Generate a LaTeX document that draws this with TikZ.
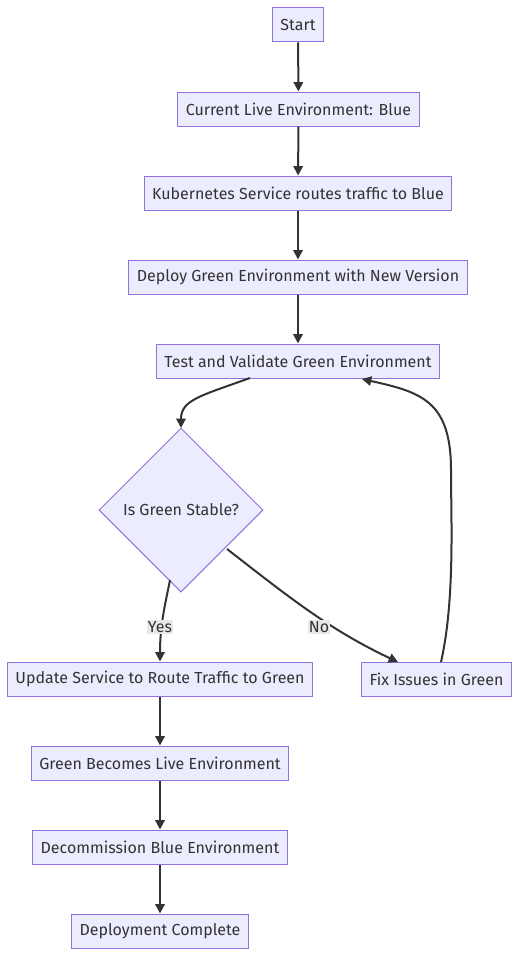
\documentclass[tikz,border=0pt]{standalone}
\usepackage{fontspec}
\setmainfont{Fira Sans}
\usetikzlibrary{arrows.meta,shapes.geometric}
\definecolor{nodefill}{HTML}{ECECFF}
\definecolor{nodeline}{HTML}{9370DB}
\definecolor{edgeline}{HTML}{333333}
\definecolor{textcol}{HTML}{333333}
\definecolor{labelbg}{HTML}{E8E8E8}
\begin{document}
\begin{tikzpicture}[x=0.75pt,y=-0.75pt,
  box/.style={draw=nodeline,fill=nodefill,line width=0.75pt,text=textcol,font=\fontsize{12}{14}\selectfont,minimum height=25.5pt,inner xsep=6pt,anchor=center},
  dia/.style={draw=nodeline,fill=nodefill,line width=0.75pt,text=textcol,font=\fontsize{12}{14}\selectfont,diamond,minimum width=123pt,minimum height=123pt,inner sep=0pt},
  edge/.style={draw=edgeline,line width=1.5pt,-{Triangle[length=7pt,width=7pt]}},
  elabel/.style={fill=labelbg,text=textcol,font=\fontsize{12}{14}\selectfont,inner sep=1pt}]
\useasboundingbox (0,0) rectangle (519,956);
\node[box,minimum width=37.5pt] (start) at (298,25) {Start};
\node[box,minimum width=177.75pt] (cur) at (298.5,109) {Current Live Environment: Blue};
\node[box,minimum width=229.5pt] (k8s) at (298,193) {Kubernetes Service routes traffic to Blue};
\node[box,minimum width=253.5pt] (dep) at (298,277) {Deploy Green Environment with New Version};
\node[box,minimum width=211.5pt] (test) at (298,361) {Test and Validate Green Environment};
\node[dia] (stable) at (181,510) {Is Green Stable?};
\node[box,minimum width=228pt] (upd) at (160,679) {Update Service to Route Traffic to Green};
\node[box,minimum width=111.75pt] (fix) at (436.5,679) {Fix Issues in Green};
\node[box,minimum width=192pt] (live) at (160,763) {Green Becomes Live Environment};
\node[box,minimum width=189pt] (decom) at (160,847) {Decommission Blue Environment};
\node[box,minimum width=132pt] (done) at (160,931) {Deployment Complete};
\coordinate (tb) at (250,378);
\coordinate (sb) at (181,428);
\coordinate (sl) at (170,580);
\coordinate (sr) at (227,549);
\coordinate (ft) at (441,662);
\coordinate (tr) at (362,379);
\draw[edge] (start) -- (cur);
\draw[edge] (cur) -- (k8s);
\draw[edge] (k8s) -- (dep);
\draw[edge] (dep) -- (test);
\draw[edge] (tb) .. controls (200,396) and (181,400) .. (sb);
\draw[edge] (sl) .. controls (165,605) and (160,625) .. (upd.north);
\draw[edge] (sr) .. controls (290,598) and (330,630) .. (398,662);
\draw[edge] (ft) .. controls (455,600) and (451,520) .. (451,470) .. controls (451,400) and (420,392) .. (tr);
\draw[edge] (upd) -- (live);
\draw[edge] (live) -- (decom);
\draw[edge] (decom) -- (done);
\node[elabel] (yes) at (160,627) {Yes};
\node[elabel] (no) at (319,627) {No};
\end{tikzpicture}
\end{document}
